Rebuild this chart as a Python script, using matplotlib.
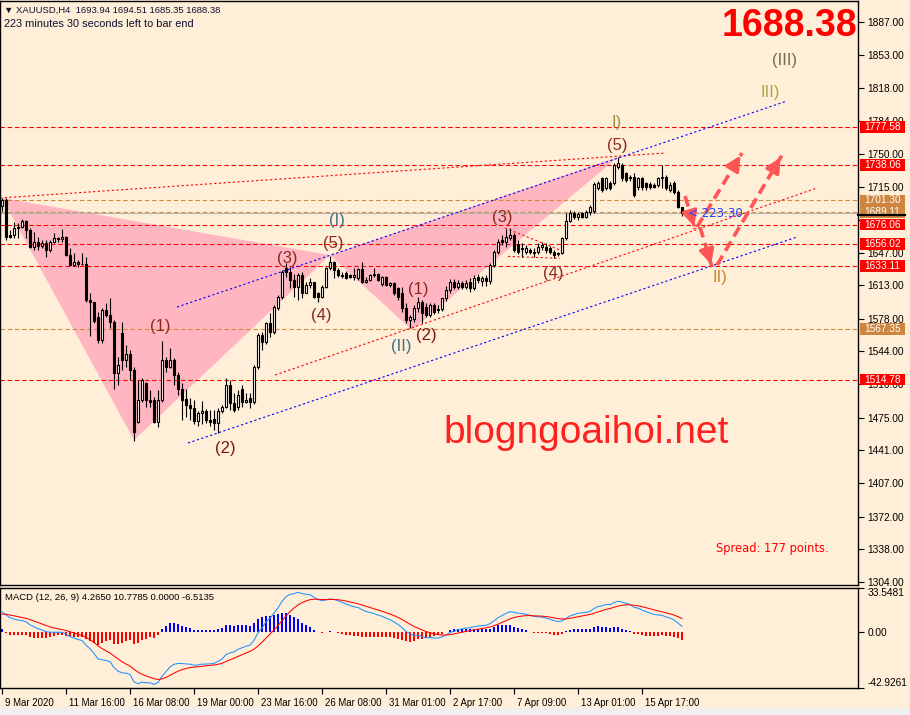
import numpy as np
import matplotlib
matplotlib.use("Agg")
import matplotlib.pyplot as plt
from matplotlib.patches import Polygon, Rectangle
import matplotlib.transforms as mtransforms

# ---------------- data (H4 XAUUSD, bar index 0 = 9 Mar 2020 00:00) ----------------
opens = [1695.0,1701.7,1665.3,1665.3,1672.2,1673.2,1679.5,1670.5,1653.1,1658.3,
         1653.8,1657.3,1649.6,1658.3,1661.8,1660.7,1662.8,1644.4,1634.0,1636.8,
         1635.0,1635.5,1597.6,1595.9,1580.2,1556.0,1587.2,1582.0,1575.0,1521.9,
         1563.6,1535.1,1541.4,1524.7,1470.9,1493.5,1511.5,1493.5,1493.5,1470.9,
         1493.5,1535.1,1528.2,1535.1,1519.5,1505.0,1495.0,1488.0,1485.0,1472.0,
         1480.0,1482.0,1473.0,1474.0,1470.0,1482.0,1486.5,1509.1,1490.0,1486.0,
         1505.0,1491.7,1495.2,1491.7,1528.2,1561.1,1554.2,1573.3,1564.6,1588.9,
         1601.1,1630.5,1627.1,1618.4,1611.5,1623.6,1604.5,1613.2,1616.7,1604.5,
         1601.1,1611.5,1630.5,1637.5,1628.8,1623.6,1626.0,1623.6,1621.9,1620.2,
         1630.0,1616.7,1618.4,1623.6,1625.0,1614.0,1621.9,1613.2,1614.9,1609.7,
         1604.5,1588.9,1577.0,1578.0,1588.9,1596.0,1590.0,1582.0,1592.4,1587.0,
         1588.0,1599.3,1608.0,1616.0,1611.5,1615.0,1611.5,1616.0,1609.7,1621.9,
         1617.4,1620.2,1617.0,1634.0,1647.9,1660.0,1658.3,1661.8,1665.3,1656.0,
         1651.0,1648.0,1649.6,1648.0,1647.9,1653.1,1653.1,1651.4,1647.9,1645.0,
         1646.2,1662.0,1680.0,1687.8,1684.3,1687.8,1684.3,1689.5,1690.0,1714.0,
         1724.2,1713.8,1719.0,1719.0,1736.3,1738.1,1729.4,1725.9,1725.9,1715.5,
         1724.2,1719.0,1718.0,1717.3,1717.3,1724.2,1725.9,1712.1,1719.0,1710.3,
         1693.94]
highs = [1703.4,1703.4,1670.5,1679.1,1677.4,1681.6,1680.9,1672.2,1668.7,1663.5,
         1660.1,1660.1,1660.1,1667.0,1663.5,1671.2,1664.2,1651.4,1646.2,1639.2,
         1646.2,1642.7,1604.5,1595.9,1585.4,1588.9,1594.1,1599.3,1576.8,1538.6,
         1575.0,1550.7,1545.5,1528.2,1514.3,1516.0,1512.6,1503.9,1496.9,1503.9,
         1555.2,1538.6,1547.2,1536.8,1523.0,1510.8,1505.0,1496.0,1493.0,1482.0,
         1492.0,1484.0,1483.0,1483.0,1485.0,1488.2,1516.0,1514.3,1500.4,1503.9,
         1509.0,1500.4,1500.4,1530.0,1563.0,1564.6,1575.0,1583.7,1592.0,1602.8,
         1629.0,1635.8,1632.0,1625.0,1625.3,1627.0,1616.7,1620.0,1616.7,1606.3,
         1613.2,1632.3,1643.7,1638.2,1630.5,1627.0,1628.0,1625.0,1630.5,1630.5,
         1637.5,1621.9,1625.0,1630.5,1626.0,1622.9,1623.0,1616.7,1616.7,1611.5,
         1611.5,1594.0,1582.0,1592.0,1601.0,1597.6,1595.0,1595.0,1594.0,1592.0,
         1600.0,1612.0,1619.0,1619.0,1618.0,1617.0,1618.0,1620.0,1624.0,1625.0,
         1623.0,1623.6,1636.0,1650.0,1661.0,1665.3,1672.0,1672.5,1667.0,1660.0,
         1656.6,1655.0,1652.0,1651.4,1656.6,1658.3,1656.6,1654.0,1650.0,1648.0,
         1663.0,1688.0,1691.0,1690.0,1689.5,1689.0,1691.2,1696.5,1720.0,1721.0,
         1726.0,1726.0,1722.0,1740.0,1746.8,1740.0,1731.0,1728.0,1729.4,1726.0,
         1726.0,1720.0,1720.0,1719.0,1726.0,1738.1,1728.0,1720.0,1721.0,1712.0,
         1694.51]
lows = [1690.0,1660.0,1661.8,1661.8,1661.8,1672.2,1661.8,1651.4,1649.6,1649.6,
        1651.4,1642.7,1647.9,1656.6,1658.3,1658.3,1643.4,1633.0,1633.0,1631.6,
        1634.0,1595.9,1560.1,1573.3,1553.2,1552.5,1580.2,1568.1,1504.6,1509.1,
        1524.7,1528.2,1514.3,1451.2,1469.2,1491.7,1486.5,1486.5,1469.2,1465.7,
        1491.7,1523.0,1526.4,1509.1,1498.7,1472.6,1476.0,1473.0,1468.0,1466.0,
        1469.0,1470.0,1466.0,1462.0,1458.8,1479.6,1484.8,1483.0,1481.3,1483.0,
        1486.5,1490.0,1484.8,1489.0,1526.0,1545.5,1552.0,1559.4,1562.0,1587.2,
        1599.0,1622.0,1610.0,1601.0,1598.0,1599.3,1604.5,1610.0,1599.3,1595.9,
        1599.3,1609.7,1628.8,1620.2,1621.9,1621.0,1619.0,1620.0,1618.4,1618.4,
        1614.9,1614.9,1617.0,1621.9,1617.0,1612.0,1612.0,1611.0,1603.0,1597.6,
        1585.4,1574.0,1568.0,1575.0,1585.0,1573.3,1580.0,1580.0,1583.0,1584.0,
        1586.0,1597.0,1605.0,1609.0,1609.0,1609.0,1609.0,1606.0,1608.0,1615.0,
        1612.0,1612.0,1614.0,1632.0,1645.0,1654.8,1653.0,1660.0,1648.0,1645.0,
        1642.7,1645.0,1646.0,1642.7,1645.0,1650.0,1647.0,1645.0,1641.0,1643.0,
        1645.0,1660.0,1679.0,1682.0,1681.0,1683.0,1683.0,1686.0,1688.0,1712.0,
        1710.0,1712.0,1712.0,1717.0,1734.0,1722.0,1720.0,1722.0,1705.0,1712.0,
        1712.0,1712.0,1713.0,1714.0,1715.0,1714.0,1712.0,1710.0,1708.0,1693.0,
        1685.35]
closes = [1701.7,1663.5,1663.5,1672.2,1673.2,1680.2,1670.5,1653.1,1658.3,1653.8,
          1657.3,1649.6,1658.3,1661.8,1660.7,1662.8,1644.4,1634.0,1636.8,1635.0,
          1635.5,1597.6,1595.9,1576.1,1556.0,1587.2,1582.0,1575.0,1521.9,1529.9,
          1535.1,1541.4,1524.7,1460.5,1493.5,1514.3,1493.5,1491.7,1470.9,1493.5,
          1535.1,1528.2,1535.1,1519.5,1505.0,1493.5,1488.0,1485.0,1472.0,1480.0,
          1482.0,1473.0,1471.0,1470.0,1482.0,1486.5,1509.1,1490.0,1483.0,1498.7,
          1491.7,1494.0,1491.7,1528.2,1561.1,1554.2,1573.3,1564.6,1590.6,1601.1,
          1627.1,1627.1,1618.4,1611.5,1623.6,1604.5,1613.2,1616.7,1601.1,1601.1,
          1611.5,1630.5,1637.5,1628.8,1623.6,1623.0,1620.8,1621.9,1623.6,1630.0,
          1616.7,1618.4,1623.6,1625.0,1618.4,1621.9,1613.2,1614.9,1604.5,1601.1,
          1588.9,1577.0,1580.0,1588.9,1596.0,1583.7,1582.0,1592.4,1585.4,1588.0,
          1599.3,1608.0,1616.0,1611.5,1615.0,1611.5,1615.0,1609.7,1620.2,1618.4,
          1620.2,1617.0,1634.0,1647.9,1658.3,1658.3,1663.5,1665.3,1649.6,1647.9,
          1652.0,1651.4,1648.0,1646.2,1653.1,1655.0,1649.6,1647.2,1644.4,1646.2,
          1662.0,1680.0,1687.8,1684.3,1687.0,1684.3,1689.5,1694.7,1718.0,1719.0,
          1712.1,1724.2,1713.8,1738.1,1739.8,1724.2,1722.5,1724.2,1706.9,1724.2,
          1715.5,1715.5,1715.5,1715.5,1724.2,1725.9,1713.8,1717.3,1710.3,1694.7,
          1688.38]

date_ticks = [0, 16, 32, 48, 64, 80, 96, 112, 128, 144, 160]
date_labels = ["9 Mar 2020", "11 Mar 16:00", "16 Mar 08:00", "19 Mar 00:00",
               "23 Mar 16:00", "26 Mar 08:00", "31 Mar 01:00", "2 Apr 17:00",
               "7 Apr 09:00", "13 Apr 01:00", "15 Apr 17:00"]
price_ticks = [1887, 1853, 1818, 1784, 1750, 1715, 1681, 1647, 1613, 1578,
               1544, 1510, 1475, 1441, 1407, 1372, 1338, 1304]
hidden_ticks = [1681]   # covered by the level boxes in the terminal

red_levels = [1777.58, 1738.06, 1676.06, 1656.02, 1633.11, 1514.78]
orange_levels = [1701.30, 1689.11, 1567.35]
bid_price = 1688.38

# MACD(12,26,9) seeds (state of the EMAs at the first visible bar)
ema12_seed, ema26_seed, signal_seed = 1676.0, 1661.6, 13.1

# chart objects (bar index, price)
trend_lines = [  # (p0, p1, color)
    ((-0.5, 1703.8), (165.75, 1750.6), "#FF0000"),
    ((43.75, 1590.3), (196.25, 1804.8), "#0000FF"),
    ((68.25, 1519.5), (203.75, 1714.2), "#FF0000"),
    ((46.5, 1448.7), (198.75, 1663.2), "#0000FF"),
    ((125.75, 1672.5), (139.5, 1649.6), "#FF0000"),
    ((126.5, 1643.0), (139.5, 1641.0), "#FF0000"),
]
triangles = [
    [(0, 1703.8), (33, 1451.8), (82, 1644.4)],
    [(82, 1644.4), (102.5, 1566.3), (154, 1746.5)],
]
wave_labels = [  # text, bar, price, color
    ("(1)", 39.5, 1570.5, "#8B2A1A"), ("(2)", 55.75, 1443.5, "#7B1515"),
    ("(3)", 71.25, 1641.3, "#8B2A1A"), ("(4)", 79.75, 1581.0, "#8B2A1A"),
    ("(5)", 82.75, 1656.9, "#8B2A1A"), ("(I)", 83.75, 1680.9, "#3F6F80"),
    ("(II)", 99.75, 1549.7, "#3F6F80"), ("(1)", 104, 1609.0, "#8B2A1A"),
    ("(2)", 106, 1561.1, "#7B1515"), ("(3)", 125, 1684.0, "#8B2A1A"),
    ("(4)", 137.75, 1625.7, "#8B2A1A"), ("(5)", 153.75, 1758.9, "#8B2A1A"),
    ("I)", 153.75, 1782.9, "#A08C3C"), ("II)", 179.5, 1621.5, "#C8862A"),
    ("III)", 192, 1814.1, "#A8A840"), ("(III)", 195.75, 1847.4, "#6E6E4A"),
]
arrows = [
    ((170.75, 1705.8), (173.25, 1671.5)),
    ((173.75, 1673.6), (185.0, 1750.6)),
    ((174.5, 1673.6), (177.5, 1632.0)),
    ((178.75, 1634.0), (195.0, 1748.5)),
]

# ---------------- figure ----------------
BG = "#FFEFD8"
UI = "Liberation Sans"
W, H = 910, 715
fig = plt.figure(figsize=(W / 100, H / 100), dpi=100, facecolor=BG)


def frame(x0, y0, x1, y1):
    return [x0 / W, 1 - y1 / H, (x1 - x0) / W, (y1 - y0) / H]


ax = fig.add_axes(frame(0, 1, 858, 585), facecolor=BG)
axm = fig.add_axes(frame(0, 588, 858, 688), facecolor=BG)
fig.patches.append(Rectangle((0, 0), 1, 7 / H, transform=fig.transFigure,
                             fc="#F0F0F0", ec="none"))

O = np.array(opens); Hh = np.array(highs); L = np.array(lows); C = np.array(closes)
idx = np.arange(len(C))

XMIN, XMAX = -0.5, 214
ax.set_xlim(XMIN, XMAX)
ax.set_ylim(1300.9, 1908.9)

# pink triangles
for tri in triangles:
    ax.add_patch(Polygon(tri, closed=True, fc="#FFB6C1", ec="none", zorder=1))

# horizontal levels
for lv in red_levels:
    ax.axhline(lv, color="#FF0000", lw=0.8, ls=(0, (4, 2.5)), zorder=2)
for lv in orange_levels:
    ax.axhline(lv, color="#D2873C", lw=0.8, ls=(0, (4, 2.5)), zorder=2)
ax.axhline(bid_price, color="#B8B8B8", lw=0.9, zorder=2)

# trend lines
for (p0, p1, col) in trend_lines:
    ax.plot([p0[0], p1[0]], [p0[1], p1[1]], color=col, lw=0.8,
            ls=(0, (2, 2.2)), zorder=2)

# candles
ax.vlines(idx, L, Hh, color="black", lw=0.8, zorder=3)
bull = C >= O
body_h = np.maximum(np.abs(C - O), 0.6)
ax.bar(idx, body_h, bottom=np.minimum(O, C), width=0.6,
       color=np.where(bull, "white", "black"), edgecolor="black",
       linewidth=0.8, zorder=4)

# wave labels
for t, x, y, col in wave_labels:
    ax.text(x, y, t, color=col, fontsize=12, ha="center", va="center",
            family=UI, zorder=6)

# arrows
for (p0, p1) in arrows:
    ax.plot([p0[0], p1[0]], [p0[1], p1[1]], color="#FF5555", lw=2.6,
            ls=(0, (3, 1.6)), zorder=5, solid_capstyle="butt")
    ax.annotate("", xy=p1, xytext=(p0[0] + (p1[0] - p0[0]) * 0.8,
                                   p0[1] + (p1[1] - p0[1]) * 0.8),
                arrowprops=dict(arrowstyle="-|>,head_length=0.9,head_width=0.45",
                                color="#FF5555", lw=2.4), zorder=5)

# texts in chart
ax.text(171.5, 1687.5, "< 223:30", color="#2040FF", fontsize=8.5,
        ha="left", va="center", zorder=6)
ax.text(146.0, 1459.1, "blogngoaihoi.net", color="#FF2020", fontsize=28,
        ha="center", va="center", family=UI, zorder=6)
ax.text(178.5, 1339.4, "Spread: 177 points.", color="#FF0000", fontsize=8.3,
        ha="left", va="center", zorder=6)

# axes styling (main)
ax.set_xticks([])
ax.yaxis.tick_right()
ax.set_yticks(price_ticks)
ax.set_yticklabels(["" if v in hidden_ticks else f"{v:.2f}" for v in price_ticks],
                   fontsize=7.3, family=UI)
ax.tick_params(axis="y", direction="out", length=4, width=0.8, pad=3,
               colors="black")
for s in ax.spines.values():
    s.set_color("black"); s.set_linewidth(1)

# level boxes on price axis
bt = mtransforms.blended_transform_factory(ax.transAxes, ax.transData)
box_levels = [(1777.58, "#FF0000"), (1738.06, "#FF0000"), (1701.30, "#CD853F"),
              (1689.11, "#CD853F"), (1676.06, "#FF0000"), (1656.02, "#FF0000"),
              (1633.11, "#FF0000"), (1567.35, "#CD853F"), (1514.78, "#FF0000")]
bx0 = 860 / 858
bw = 45 / 858
for lv, col in box_levels:
    ax.add_patch(Rectangle((bx0, lv - 6.0), bw, 12.0, transform=bt, fc=col,
                           ec="none", clip_on=False, zorder=10))
    ax.text(bx0 + bw / 2, lv, f"{lv:.2f}", transform=bt, color="white",
            fontsize=7.3, family=UI, ha="center", va="center", clip_on=False,
            zorder=11)
ax.plot([1.0, 1.0 + 47 / 858], [1686.0, 1686.0], transform=bt, color="black",
        lw=1.6, clip_on=False, zorder=11)

# header
fig.text(4 / W, 1 - 10 / H, "\u25BC XAUUSD,H4  1693.94 1694.51 1685.35 1688.38",
         fontsize=6.8, color="#101030", ha="left", va="center",
         family=[UI, "DejaVu Sans"])
fig.text(4 / W, 1 - 24 / H, "223 minutes 30 seconds left to bar end",
         fontsize=7.9, color="#101030", ha="left", va="center", family=UI)
fig.text(857 / W, 1 - 26 / H, "1688.38", fontsize=27, fontweight="bold",
         color="#FF0000", ha="right", va="center", family=UI)

# ---------------- MACD ----------------
a12, a26, a9 = 2 / 13, 2 / 27, 2 / 10
e12, e26, sg = ema12_seed, ema26_seed, signal_seed
macd, sig = [], []
for c in C:
    e12 += a12 * (c - e12)
    e26 += a26 * (c - e26)
    m = e12 - e26
    sg += a9 * (m - sg)
    macd.append(m); sig.append(sg)
macd = np.array(macd); sig = np.array(sig); hist = macd - sig

axm.set_xlim(XMIN, XMAX)
axm.set_ylim(-42.9261, 33.5481)
axm.bar(idx, hist, width=0.6, color=np.where(hist >= 0, "#0000FF", "#FF0000"),
        zorder=2)
axm.plot(idx, macd, color="#1E90FF", lw=0.75, zorder=3)
axm.plot(idx, sig, color="#FF0000", lw=0.75, zorder=3)

axm.yaxis.tick_right()
axm.set_yticks([33.5481, 0.0, -42.9261])
axm.set_yticklabels(["33.5481", "0.00", "-42.9261"], fontsize=7.3, family=UI)
labs = axm.get_yticklabels()
labs[0].set_va("top"); labs[2].set_va("bottom")
axm.tick_params(axis="y", direction="out", length=4, width=0.8, pad=3)
axm.set_xticks(date_ticks)
axm.set_xticklabels(date_labels, fontsize=6.9, ha="left", family=UI)
axm.tick_params(axis="x", direction="out", length=4, width=0.8, pad=3)
off = mtransforms.ScaledTranslation(2 / 72, 0, fig.dpi_scale_trans)
for lab in axm.get_xticklabels():
    lab.set_transform(lab.get_transform() + off)
for s in axm.spines.values():
    s.set_color("black"); s.set_linewidth(1)
axm.text(5 / 858, 0.91, "MACD (12, 26, 9) 4.2650 10.7785 0.0000 -6.5135",
         transform=axm.transAxes, fontsize=6.8, family=UI, ha="left",
         va="center")

fig.savefig("out.png", dpi=100, facecolor=BG)
